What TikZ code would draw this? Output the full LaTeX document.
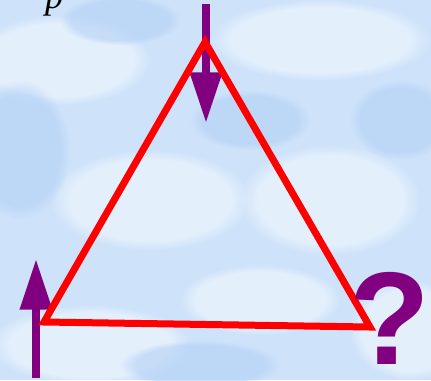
\documentclass[tikz,border=0pt]{standalone}
\usepackage{fontspec}
\newfontfamily\qfont{Liberation Sans}
\newfontfamily\pfont{Liberation Serif}
\usetikzlibrary{arrows.meta,fadings}

\definecolor{skyblue}{RGB}{206,227,250}
\definecolor{skydark}{RGB}{178,208,245}
\definecolor{arrowpurple}{RGB}{128,0,128}

\tikzset{
  cloud/.style={fill=white,opacity=0.45,path fading=circle with fuzzy edge 20 percent},
  cloudshade/.style={fill=skydark,opacity=0.6,path fading=circle with fuzzy edge 20 percent},
  spin/.style={arrowpurple,line width=6pt,-{Triangle[width=23pt,length=38pt]}},
  edge/.style={red,line width=5.25pt,line join=miter}
}

\begin{document}
\begin{tikzpicture}[x=0.75pt,y=0.75pt,yscale=-1,xscale=1]
\useasboundingbox (0,0) rectangle (431,380);
\clip (0,0) rectangle (431,380);

%Background
\fill[skyblue] (0,0) rectangle (431,380);
\fill[cloud] (60,60) ellipse (90 and 45);
\fill[cloud] (320,40) ellipse (110 and 40);
\fill[cloud] (150,200) ellipse (100 and 50);
\fill[cloud] (330,200) ellipse (90 and 55);
\fill[cloud] (90,345) ellipse (100 and 40);
\fill[cloud] (260,300) ellipse (80 and 35);
\fill[cloud] (410,330) ellipse (60 and 50);
\fill[cloudshade] (20,150) ellipse (50 and 70);
\fill[cloudshade] (250,120) ellipse (60 and 30);
\fill[cloudshade] (400,120) ellipse (50 and 40);
\fill[cloudshade] (200,365) ellipse (80 and 25);
\fill[cloudshade] (120,20) ellipse (60 and 25);

%Coordinates
\coordinate (apex) at (205,42);
\coordinate (left) at (44,322);
\coordinate (right) at (370,327);
\coordinate (topstart) at (206,4);
\coordinate (topend) at (206,123);
\coordinate (leftstart) at (36,378);
\coordinate (leftend) at (36,259);

%Arrows
\draw[spin] (topstart) -- (topend);
\draw[spin] (leftstart) -- (leftend);

%Shape: Triangle
\draw[edge] (apex) -- (right) -- (left) -- cycle;

% Text Node
\node (plabel) [anchor=base,inner sep=0pt] at (54,8) {\fontsize{27}{27}\selectfont\pfont\itshape p};
% Text Node
\node (query) [anchor=center,inner sep=0pt,text=arrowpurple] at (390,318) {\fontsize{99}{99}\selectfont\qfont\bfseries ?};
\end{tikzpicture}
\end{document}
